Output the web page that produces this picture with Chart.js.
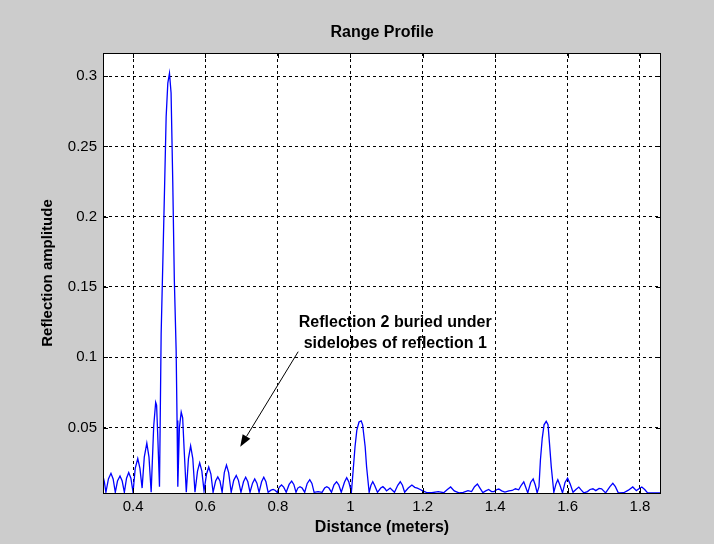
<!DOCTYPE html>
<html>
<head>
<meta charset="utf-8">
<title>Range Profile</title>
<script src="https://cdn.jsdelivr.net/npm/chart.js@4/dist/chart.umd.min.js"></script>
<style>
  html, body { margin: 0; padding: 0; background: #cccccc; }
  #wrap { width: 714px; height: 544px; }
  canvas { display: block; }
</style>
</head>
<body>
<div id="wrap"><canvas id="profile" width="714" height="544"></canvas></div>
<script>
// ---- Text ----
const chartTitle = 'Range Profile';
const xAxisLabel = 'Distance (meters)';
const yAxisLabel = 'Reflection amplitude';
const noteLines = ['Reflection 2 buried under', 'sidelobes of reflection 1'];

// ---- Axis limits and tick spacing ----
const distanceLimits = [0.317, 1.858];
const amplitudeLimits = [0.0035, 0.3164];
const distanceTickStep = 0.2;
const amplitudeTickStep = 0.05;

// ---- Note anchor (data units): text centre, arrow tail, arrow tip ----
const noteCentre = [1.124, 0.1175];
const arrowTail = [0.856, 0.104];
const arrowTip = [0.696, 0.0364];

// ---- Range profile samples: [distance (m), amplitude] ----
const leadingSidelobes = [
  [0.317, 0.0155], [0.321, 0.011], [0.325, 0.004],
  [0.332, 0.0135], [0.339, 0.0175], [0.345, 0.0135], [0.351, 0.004],
  [0.357, 0.012], [0.364, 0.0156], [0.370, 0.012], [0.376, 0.004],
  [0.382, 0.014], [0.388, 0.018], [0.394, 0.014], [0.400, 0.004],
  [0.406, 0.021], [0.413, 0.028], [0.419, 0.021], [0.425, 0.007],
  [0.431, 0.029], [0.438, 0.039], [0.444, 0.029], [0.450, 0.004],
  [0.457, 0.051], [0.4625, 0.068], [0.465, 0.066], [0.468, 0.046], [0.473, 0.008]
];

const firstReflection = [
  [0.4776, 0.117], [0.482, 0.165], [0.4867, 0.217], [0.4914, 0.271],
  [0.496, 0.295], [0.5006, 0.302], [0.505, 0.288], [0.5097, 0.224],
  [0.514, 0.155], [0.519, 0.105], [0.5215, 0.055], [0.5236, 0.008]
];

const trailingSidelobes = [
  [0.528, 0.050], [0.533, 0.061], [0.537, 0.057], [0.541, 0.035], [0.547, 0.004],
  [0.553, 0.028], [0.559, 0.037], [0.565, 0.028], [0.571, 0.004],
  [0.578, 0.019], [0.584, 0.025], [0.590, 0.019], [0.596, 0.005],
  [0.603, 0.017], [0.609, 0.022], [0.615, 0.017], [0.621, 0.004],
  [0.628, 0.012], [0.634, 0.015], [0.640, 0.012], [0.646, 0.004],
  [0.652, 0.018], [0.658, 0.0234], [0.664, 0.018], [0.671, 0.004],
  [0.678, 0.0125], [0.685, 0.016], [0.691, 0.0125], [0.698, 0.004],
  [0.705, 0.0115], [0.711, 0.0147], [0.717, 0.0115], [0.723, 0.004],
  [0.730, 0.0105], [0.736, 0.0135], [0.742, 0.0105], [0.748, 0.004],
  [0.755, 0.0115], [0.761, 0.0147], [0.767, 0.0115], [0.773, 0.004],
  [0.781, 0.0055], [0.787, 0.006], [0.792, 0.0055], [0.798, 0.004],
  [0.804, 0.0077], [0.810, 0.0092], [0.816, 0.0077], [0.823, 0.004],
  [0.831, 0.0096], [0.838, 0.012], [0.844, 0.0096], [0.850, 0.004],
  [0.855, 0.007], [0.861, 0.008], [0.867, 0.007], [0.874, 0.004],
  [0.881, 0.0103], [0.888, 0.013], [0.894, 0.0103], [0.900, 0.004],
  [0.911, 0.0045], [0.922, 0.004],
  [0.929, 0.007], [0.935, 0.008], [0.941, 0.007], [0.948, 0.004],
  [0.955, 0.0093], [0.962, 0.0115], [0.968, 0.0093], [0.975, 0.004],
  [0.984, 0.0113], [0.990, 0.0144], [0.996, 0.0113], [1.003, 0.004]
];

const secondReflection = [
  [1.008, 0.020], [1.013, 0.0364], [1.018, 0.0482], [1.024, 0.054], [1.030, 0.0548],
  [1.034, 0.052], [1.041, 0.0364], [1.045, 0.022], [1.052, 0.004]
];

const middleClutter = [
  [1.057, 0.009], [1.062, 0.0115], [1.067, 0.009], [1.075, 0.004],
  [1.084, 0.007], [1.090, 0.008], [1.096, 0.0065], [1.100, 0.005], [1.105, 0.006],
  [1.110, 0.007], [1.116, 0.0055], [1.122, 0.004],
  [1.131, 0.009], [1.138, 0.0115], [1.144, 0.009], [1.150, 0.004],
  [1.160, 0.007], [1.170, 0.0092], [1.178, 0.0075], [1.185, 0.007], [1.193, 0.006],
  [1.200, 0.005], [1.210, 0.004],
  [1.225, 0.0037], [1.243, 0.0045], [1.258, 0.0037], [1.268, 0.006], [1.277, 0.0078],
  [1.287, 0.005], [1.300, 0.0036], [1.312, 0.004], [1.325, 0.0052], [1.335, 0.0045],
  [1.343, 0.008], [1.351, 0.0099], [1.358, 0.007], [1.366, 0.0038], [1.374, 0.005],
  [1.382, 0.006], [1.390, 0.0045], [1.397, 0.0045], [1.405, 0.006], [1.410, 0.0063],
  [1.418, 0.005], [1.427, 0.0042], [1.438, 0.005], [1.447, 0.0053], [1.456, 0.0065],
  [1.465, 0.0058], [1.472, 0.009], [1.479, 0.0115], [1.484, 0.008], [1.490, 0.0036],
  [1.498, 0.011], [1.505, 0.0135], [1.511, 0.009], [1.516, 0.0036]
];

const thirdReflection = [
  [1.521, 0.008], [1.525, 0.027], [1.530, 0.0424], [1.535, 0.052], [1.541, 0.0545],
  [1.546, 0.052], [1.550, 0.039], [1.555, 0.022], [1.562, 0.004]
];

const trailingClutter = [
  [1.568, 0.010], [1.573, 0.013], [1.579, 0.009], [1.586, 0.0036], [1.593, 0.011],
  [1.600, 0.014], [1.607, 0.010], [1.615, 0.004], [1.623, 0.006], [1.631, 0.0077],
  [1.638, 0.0055], [1.645, 0.0036], [1.655, 0.0045], [1.662, 0.006], [1.670, 0.0065],
  [1.678, 0.0052], [1.687, 0.0068], [1.694, 0.0065], [1.705, 0.0036], [1.717, 0.008],
  [1.725, 0.0104], [1.732, 0.008], [1.740, 0.0036], [1.755, 0.0037], [1.768, 0.0055],
  [1.780, 0.0078], [1.790, 0.0052], [1.797, 0.0065], [1.805, 0.0078], [1.813, 0.006],
  [1.821, 0.0036], [1.835, 0.0036], [1.858, 0.0036]
];

const profile = [
  ...leadingSidelobes, ...firstReflection, ...trailingSidelobes, ...secondReflection,
  ...middleClutter, ...thirdReflection, ...trailingClutter
].map(([x, y]) => ({ x, y }));

// ---- Styling ----
const FONT = "'Liberation Sans', Arial, Helvetica, sans-serif";
const figureGray = '#cccccc';
const traceBlue = '#0000ff';
const tickFormat = v => String(+Number(v).toFixed(3));

// Figure background, white axes box, centred title, inward tick marks, frame and the note
const axesDecor = {
  id: 'axesDecor',
  beforeDraw(chart) {
    const { ctx, chartArea: a } = chart;
    ctx.save();
    ctx.fillStyle = figureGray;
    ctx.fillRect(0, 0, chart.width, chart.height);
    ctx.fillStyle = '#ffffff';
    ctx.fillRect(a.left, a.top, a.right - a.left, a.bottom - a.top);
    ctx.fillStyle = '#000';
    ctx.font = 'bold 16px ' + FONT;
    ctx.textAlign = 'center';
    ctx.textBaseline = 'middle';
    ctx.fillText(chartTitle, (a.left + a.right) / 2, a.top - 20);
    ctx.restore();
  },
  afterDatasetsDraw(chart) {
    const { ctx, chartArea: a, scales: { x, y } } = chart;
    const tickLen = 5;
    ctx.save();
    ctx.strokeStyle = '#000';
    ctx.lineWidth = 1;
    ctx.setLineDash([]);
    ctx.beginPath();
    x.ticks.forEach(t => {
      const px = Math.round(x.getPixelForValue(t.value)) + 0.5;
      ctx.moveTo(px, a.bottom); ctx.lineTo(px, a.bottom - tickLen);
      ctx.moveTo(px, a.top); ctx.lineTo(px, a.top + tickLen);
    });
    y.ticks.forEach(t => {
      const py = Math.round(y.getPixelForValue(t.value)) + 0.5;
      ctx.moveTo(a.left, py); ctx.lineTo(a.left + tickLen, py);
      ctx.moveTo(a.right, py); ctx.lineTo(a.right - tickLen, py);
    });
    ctx.stroke();
    ctx.strokeRect(Math.round(a.left) + 0.5, Math.round(a.top) + 0.5,
                   Math.round(a.right - a.left) - 1, Math.round(a.bottom - a.top));

    // annotation text
    const cx = x.getPixelForValue(noteCentre[0]);
    const cy = y.getPixelForValue(noteCentre[1]);
    ctx.fillStyle = '#000';
    ctx.font = 'bold 16px ' + FONT;
    ctx.textAlign = 'center';
    ctx.textBaseline = 'middle';
    const lineGap = 21;
    noteLines.forEach((line, i) => {
      ctx.fillText(line, cx, cy + (i - (noteLines.length - 1) / 2) * lineGap);
    });

    // arrow
    const x0 = x.getPixelForValue(arrowTail[0]), y0 = y.getPixelForValue(arrowTail[1]);
    const x1 = x.getPixelForValue(arrowTip[0]), y1 = y.getPixelForValue(arrowTip[1]);
    const ang = Math.atan2(y1 - y0, x1 - x0);
    const headLen = 12, headHalf = 4.5;
    const bx = x1 - headLen * Math.cos(ang), by = y1 - headLen * Math.sin(ang);
    ctx.beginPath();
    ctx.moveTo(x0, y0);
    ctx.lineTo(bx, by);
    ctx.stroke();
    ctx.beginPath();
    ctx.moveTo(x1, y1);
    ctx.lineTo(bx + headHalf * Math.sin(ang), by - headHalf * Math.cos(ang));
    ctx.lineTo(bx - headHalf * Math.sin(ang), by + headHalf * Math.cos(ang));
    ctx.closePath();
    ctx.fill();
    ctx.restore();
  }
};

new Chart(document.getElementById('profile'), {
  type: 'line',
  data: {
    datasets: [{
      data: profile,
      borderColor: traceBlue,
      borderWidth: 1.3,
      pointRadius: 0,
      tension: 0,
      fill: false
    }]
  },
  options: {
    responsive: false,
    animation: false,
    devicePixelRatio: 1,
    layout: { padding: { left: 0, right: 53, top: 53, bottom: 0 } },
    plugins: {
      legend: { display: false },
      tooltip: { enabled: false },
      title: { display: false }
    },
    scales: {
      x: {
        type: 'linear',
        min: distanceLimits[0],
        max: distanceLimits[1],
        border: { display: false, dash: [3, 3] },
        grid: { color: '#000', lineWidth: 1, drawTicks: false },
        ticks: {
          stepSize: distanceTickStep,
          includeBounds: false,
          autoSkip: false,
          maxRotation: 0,
          color: '#000',
          font: { family: FONT, size: 15 },
          padding: 5,
          callback: tickFormat
        },
        title: {
          display: true,
          text: xAxisLabel,
          color: '#000',
          font: { family: FONT, size: 16, weight: 'bold', lineHeight: 1.2 },
          padding: { top: 0, bottom: 6.5 }
        },
        afterFit: s => { s.height = 51; }
      },
      y: {
        type: 'linear',
        min: amplitudeLimits[0],
        max: amplitudeLimits[1],
        border: { display: false, dash: [3, 3] },
        grid: { color: '#000', lineWidth: 1, drawTicks: false },
        ticks: {
          stepSize: amplitudeTickStep,
          includeBounds: false,
          autoSkip: false,
          color: '#000',
          font: { family: FONT, size: 15 },
          padding: 6,
          callback: tickFormat
        },
        title: {
          display: true,
          text: yAxisLabel,
          color: '#000',
          font: { family: FONT, size: 15, weight: 'bold', lineHeight: 1.2 },
          padding: { top: 39, bottom: 0 }
        },
        afterFit: s => { s.width = 103; }
      }
    }
  },
  plugins: [axesDecor]
});
</script>
</body>
</html>
